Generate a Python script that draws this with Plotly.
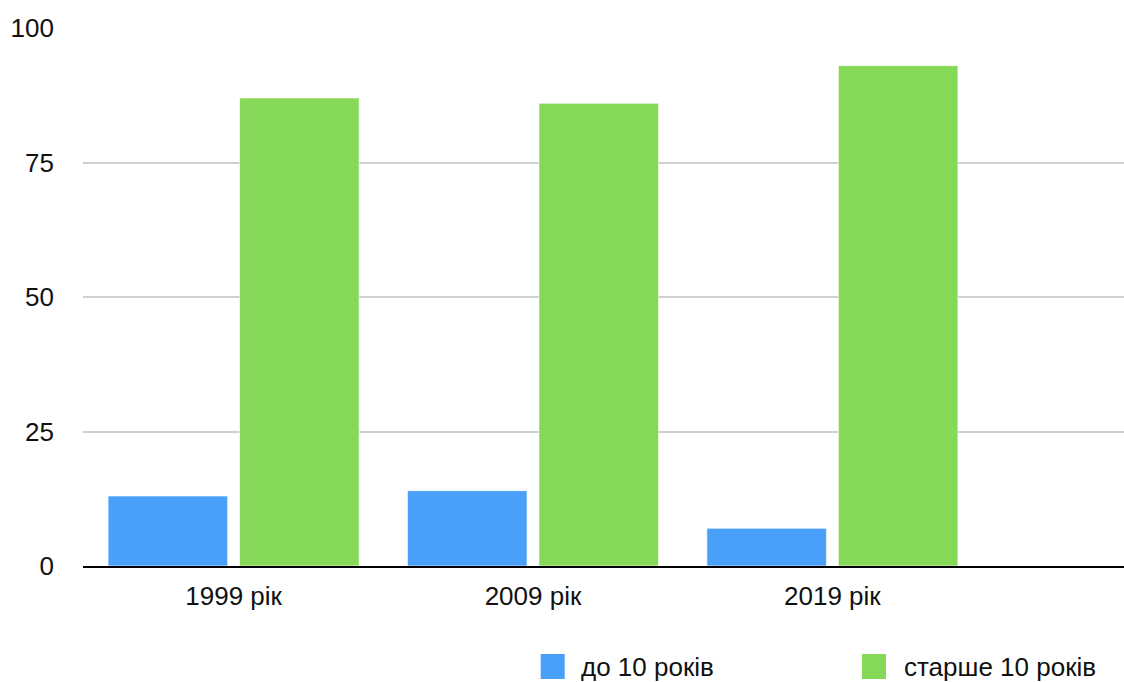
import plotly.graph_objects as go

# Survey years and the two series
years = ["1999 рік", "2009 рік", "2019 рік"]
series_names = ["до 10 років", "старше 10 років"]
under_10 = [13, 14, 7]
over_10 = [87, 86, 93]
y_ticks = [0, 25, 50, 75, 100]

colors = ["#4A9FF8", "#86D858"]
FONT = "Helvetica, 'Liberation Sans', Arial, sans-serif"
FS = 26

W, H = 1124, 682
ML, MR, MT, MB = 83, 0, 28, 116
PW, PH = W - ML - MR, H - MT - MB


def px_x(px):
    return (px - ML) / PW


def px_y(py):
    return (H - MB - py) / PH


fig = go.Figure()
for name, vals, col in zip(series_names, [under_10, over_10], colors):
    fig.add_trace(go.Bar(
        x=years, y=vals, name=name,
        marker=dict(color=col, line=dict(color="rgba(255,255,255,0.6)", width=1)),
        showlegend=False,
    ))

# Legend drawn as swatches + labels below the axis
shapes = []
annotations = []
legend_items = [(540.7, 579), (862, 902)]
for (sx, tx), name, col in zip(legend_items, series_names, colors):
    shapes.append(dict(
        type="rect", xref="paper", yref="paper",
        x0=px_x(sx), x1=px_x(sx + 24), y0=px_y(679), y1=px_y(654),
        fillcolor=col, line=dict(width=0),
    ))
    annotations.append(dict(
        xref="paper", yref="paper", x=px_x(tx), y=px_y(667),
        xanchor="left", yanchor="middle", text=name, showarrow=False,
        font=dict(family=FONT, size=FS, color="#111111"),
    ))

fig.update_layout(
    width=W, height=H,
    margin=dict(l=ML, r=MR, t=MT, b=MB, autoexpand=False),
    paper_bgcolor="white", plot_bgcolor="white",
    barmode="group", bargap=0.1216, bargroupgap=0.091,
    font=dict(family=FONT, size=FS, color="#111111"),
    shapes=shapes, annotations=annotations,
    xaxis=dict(
        type="category", range=[-0.503, 2.974],
        showgrid=False, showline=True, linecolor="black", linewidth=2,
        ticks="", ticklabelstandoff=6,
        tickfont=dict(family=FONT, size=FS, color="#111111"),
    ),
    yaxis=dict(
        range=[0, 100], tickvals=y_ticks, showgrid=True,
        gridcolor="#CFCFCF", gridwidth=1.5, zeroline=False, showline=False,
        ticks="", ticklabelstandoff=28,
        tickfont=dict(family=FONT, size=FS, color="#111111"),
    ),
)

fig.write_html("out.html")
